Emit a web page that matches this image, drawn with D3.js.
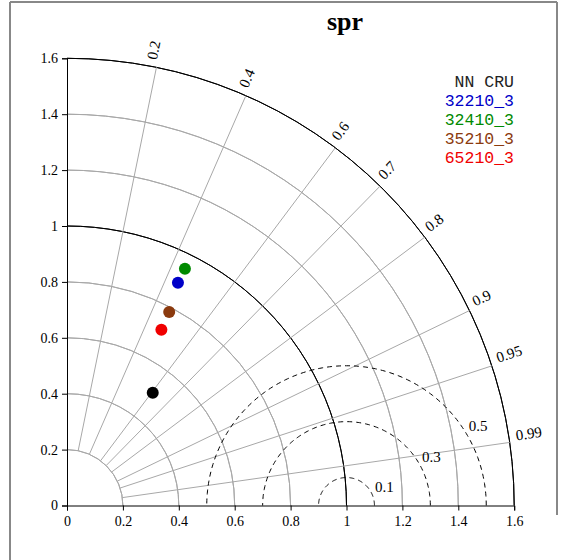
<!DOCTYPE html>
<html>
<head>
<meta charset="utf-8">
<script src="https://cdn.jsdelivr.net/npm/d3@7"></script>
<style>
  html, body { margin: 0; padding: 0; background: #fff; }
  svg { display: block; }
  .serif { font-family: "Liberation Serif", "Times New Roman", serif; }
</style>
</head>
<body>
<svg id="chart" width="568" height="560"></svg>
<script>
// Taylor diagram of normalised standard deviation vs. correlation
const seriesNames = ["NN CRU", "32210_3", "32410_3", "35210_3", "65210_3"];
const stdRatio    = [0.507, 0.890, 0.946, 0.783, 0.714];
const correlation = [0.605, 0.446, 0.446, 0.467, 0.473];
const seriesColors = ["#000000", "#0000c8", "#008a00", "#8b3a0e", "#f00000"];

const axisTicks   = [0, 0.2, 0.4, 0.6, 0.8, 1, 1.2, 1.4, 1.6];
const stdArcs     = [0.2, 0.4, 0.6, 0.8, 1, 1.2, 1.4, 1.6];
const corrTicks   = [0.2, 0.4, 0.6, 0.7, 0.8, 0.9, 0.95, 0.99];
const rmsCircles  = [0.1, 0.3, 0.5];
const title = "spr";

const SERIF = "'Liberation Serif', 'Times New Roman', serif";
const MONO = "'Liberation Mono', 'Courier New', monospace";

const svg = d3.select("#chart");
const ox = 67, oy = 505.5, R = 447.2;
const maxStd = 1.6;

const sx = d3.scaleLinear().domain([0, maxStd]).range([ox, ox + R]);
const sy = d3.scaleLinear().domain([0, maxStd]).range([oy, oy - R]);
const sr = d3.scaleLinear().domain([0, maxStd]).range([0, R]);

// frame
const frame = svg.append("g").attr("stroke", "#888").attr("stroke-width", 2).attr("fill", "none");
frame.append("line").attr("x1", 10).attr("y1", 2).attr("x2", 10).attr("y2", 560);
frame.append("line").attr("x1", 10).attr("y1", 2).attr("x2", 557).attr("y2", 2);
frame.append("line").attr("x1", 557).attr("y1", 2).attr("x2", 557).attr("y2", 515);

// title
svg.append("text")
  .attr("x", 345).attr("y", 30)
  .attr("text-anchor", "middle")
  .style("font-family", SERIF)
  .attr("font-weight", "bold")
  .attr("font-size", 26)
  .text(title);

const toXY = (r, c) => [sx(r * c), sy(r * Math.sqrt(1 - c * c))];

// quarter arcs of constant standard deviation
const arcGen = d3.arc().innerRadius(d => sr(d)).outerRadius(d => sr(d))
  .startAngle(0).endAngle(Math.PI / 2);
svg.append("g").attr("transform", `translate(${ox},${oy})`)
  .selectAll("path").data(stdArcs).join("path")
  .attr("d", arcGen)
  .attr("fill", "none")
  .attr("stroke", d => (d === 1 || d === maxStd) ? "#000" : "#a8a8a8")
  .attr("stroke-width", 1);

// radial correlation lines
svg.append("g").selectAll("line").data(corrTicks).join("line")
  .attr("x1", c => toXY(0.2, c)[0]).attr("y1", c => toXY(0.2, c)[1])
  .attr("x2", c => toXY(maxStd, c)[0]).attr("y2", c => toXY(maxStd, c)[1])
  .attr("stroke", "#a8a8a8").attr("stroke-width", 1);

// correlation labels
svg.append("g").selectAll("text").data(corrTicks).join("text")
  .attr("transform", c => {
    const [x, y] = toXY(1.625, c);
    const deg = Math.acos(c) * 180 / Math.PI;
    return `translate(${x},${y}) rotate(${-deg})`;
  })
  .attr("dy", -1)
  .style("font-family", SERIF)
  .attr("font-size", 15)
  .text(c => String(c));

// centred RMS difference circles around the reference point (1, 0)
const rmsG = svg.append("g");
rmsCircles.forEach(rv => {
  const pts = d3.range(0, 181).map(i => {
    const a = Math.PI * i / 180;
    return [sx(1 + rv * Math.cos(a)), sy(rv * Math.sin(a))];
  });
  rmsG.append("path")
    .attr("d", d3.line()(pts))
    .attr("fill", "none").attr("stroke", "#000").attr("stroke-width", 1)
    .attr("stroke-dasharray", "5,4");
});
const rmsLabelAngle = 33 * Math.PI / 180;
rmsG.selectAll("text").data(rmsCircles).join("text")
  .attr("x", rv => sx(1 + (rv + 0.022) * Math.cos(rmsLabelAngle)))
  .attr("y", rv => sy((rv + 0.022) * Math.sin(rmsLabelAngle)))
  .attr("dy", "0.35em")
  .style("font-family", SERIF)
  .attr("font-size", 15)
  .text(rv => String(rv));

// axes
const fmt = d => String(d);
const yAxis = svg.append("g").attr("transform", `translate(${ox},0)`)
  .call(d3.axisLeft(sy).tickValues(axisTicks).tickFormat(fmt).tickSize(5).tickPadding(4));
const xAxis = svg.append("g").attr("transform", `translate(0,${oy})`)
  .call(d3.axisBottom(sx).tickValues(axisTicks).tickFormat(fmt).tickSize(5).tickPadding(6));
[yAxis, xAxis].forEach(g => {
  g.attr("font-family", null);
  g.select(".domain").attr("stroke", "#000");
  g.selectAll(".tick line").attr("stroke", "#000");
  g.selectAll("text")
    .style("font-family", SERIF)
    .attr("font-size", 14)
    .attr("fill", "#000");
});

// model points
svg.append("g").selectAll("circle").data(seriesNames).join("circle")
  .attr("cx", (d, i) => toXY(stdRatio[i], correlation[i])[0])
  .attr("cy", (d, i) => toXY(stdRatio[i], correlation[i])[1])
  .attr("r", 6)
  .attr("fill", (d, i) => seriesColors[i]);

// legend
svg.append("g").selectAll("text").data(seriesNames).join("text")
  .attr("x", 514)
  .attr("y", (d, i) => 87 + i * 19)
  .attr("text-anchor", "end")
  .style("font-family", MONO)
  .attr("font-size", 16.5)
  .attr("fill", (d, i) => i === 0 ? "#222" : seriesColors[i])
  .text(d => d);
</script>
</body>
</html>
